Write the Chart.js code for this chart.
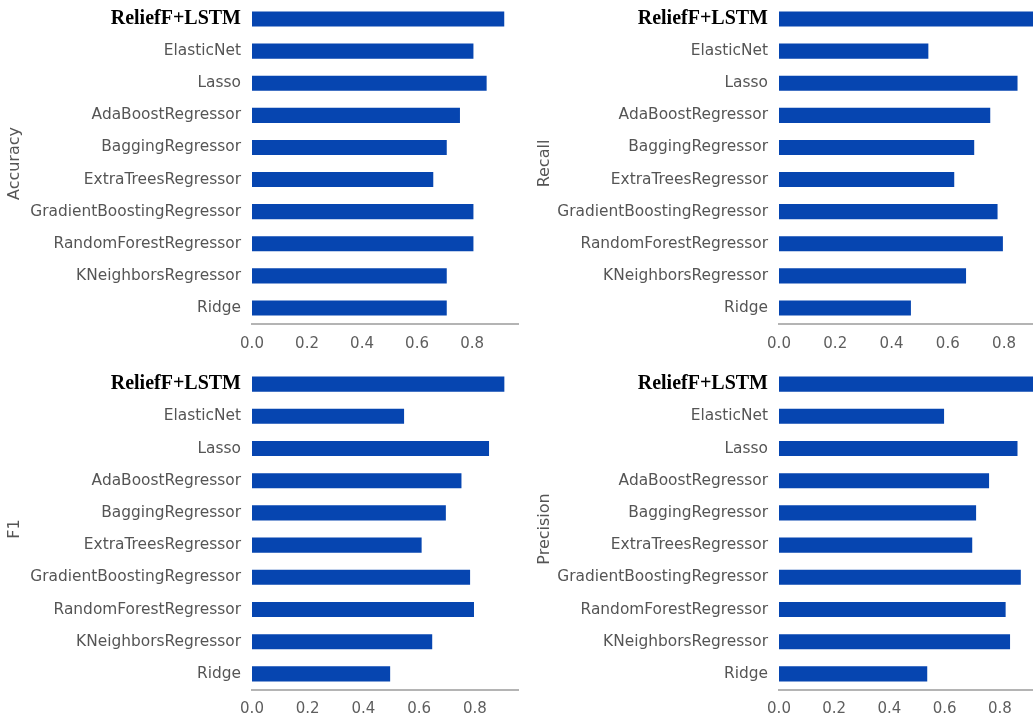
<!DOCTYPE html>
<html>
<head>
<meta charset="utf-8">
<script src="https://cdn.jsdelivr.net/npm/chart.js@4"></script>
<style>
  html, body { margin: 0; padding: 0; background: #fff; overflow: hidden; width: 1033px; height: 718px; }
  canvas { position: absolute; }
</style>
</head>
<body>
<canvas id="accuracy"></canvas>
<canvas id="recall"></canvas>
<canvas id="f1"></canvas>
<canvas id="precision"></canvas>
<script>
// Models compared, top to bottom
const models = [
  'ReliefF+LSTM', 'ElasticNet', 'Lasso', 'AdaBoostRegressor', 'BaggingRegressor',
  'ExtraTreesRegressor', 'GradientBoostingRegressor', 'RandomForestRegressor',
  'KNeighborsRegressor', 'Ridge'
];

// Scores per metric, same order as models
const accuracy  = [0.917, 0.805, 0.853, 0.756, 0.708, 0.659, 0.805, 0.805, 0.708, 0.708];
const recall    = [0.930, 0.531, 0.848, 0.751, 0.694, 0.623, 0.777, 0.796, 0.665, 0.469];
const f1        = [0.906, 0.546, 0.851, 0.752, 0.696, 0.609, 0.783, 0.797, 0.647, 0.496];
const precision = [0.930, 0.598, 0.864, 0.761, 0.714, 0.700, 0.876, 0.821, 0.837, 0.537];

// Value-axis tick positions
const xTicks = [0, 0.2, 0.4, 0.6, 0.8];

const barColor = '#0645b0';

function makePanel(p) {
  const el = document.getElementById(p.id);
  el.style.left = p.x + 'px';
  el.style.top = p.y + 'px';
  el.width = p.w;
  el.height = p.h;
  new Chart(el, {
    type: 'bar',
    data: {
      labels: models,
      datasets: [{
        data: p.values,
        backgroundColor: barColor,
        borderWidth: 0,
        barPercentage: 0.47,
        categoryPercentage: 1
      }]
    },
    options: {
      indexAxis: 'y',
      responsive: false,
      animation: false,
      devicePixelRatio: 1,
      layout: { padding: { left: p.padL, right: p.padR, top: p.padT, bottom: p.padB } },
      plugins: { legend: { display: false }, tooltip: { enabled: false } },
      scales: {
        x: {
          min: 0,
          max: p.xMax,
          grid: { display: false, drawTicks: false },
          border: { display: true, color: '#b4b4b4', width: 2 },
          ticks: {
            padding: p.tickPad,
            color: '#5e5e5e',
            font: { family: 'DejaVu Sans', size: 15 },
            callback: v => Number(v).toFixed(1)
          },
          afterBuildTicks: s => { s.ticks = xTicks.map(v => ({ value: v })); },
          afterFit: s => { s.height = 28; s.paddingLeft = 0; s.paddingRight = 0; }
        },
        y: {
          grid: { display: false, drawTicks: false },
          border: { display: false },
          ticks: {
            padding: 11,
            color: c => c.index === 0 ? '#000' : '#555',
            font: c => c.index === 0
              ? { family: 'Liberation Serif', size: 20, weight: 'bold' }
              : { family: 'DejaVu Sans', size: 15.4 }
          },
          title: {
            display: true,
            text: p.title,
            color: '#555',
            font: { family: 'DejaVu Sans', size: 16 },
            padding: 0
          },
          afterFit: s => { s.width = p.axisW; s.paddingTop = 0; s.paddingBottom = 0; }
        }
      }
    }
  });
}

makePanel({ id: 'accuracy',  title: 'Accuracy',  values: accuracy,
  x: 0,   y: 0,   w: 530, h: 360, padL: 5,  padR: 12, padT: 3, padB: 8, axisW: 247, xMax: 0.967, tickPad: 11 });
makePanel({ id: 'recall',    title: 'Recall',    values: recall,
  x: 520, y: 0,   w: 540, h: 360, padL: 15, padR: 9,  padT: 3, padB: 8, axisW: 244, xMax: 0.967, tickPad: 11 });
makePanel({ id: 'f1',        title: 'F1',        values: f1,
  x: 0,   y: 360, w: 530, h: 358, padL: 5,  padR: 12, padT: 8, padB: 0, axisW: 247, xMax: 0.955, tickPad: 10 });
makePanel({ id: 'precision', title: 'Precision', values: precision,
  x: 520, y: 360, w: 540, h: 358, padL: 15, padR: 16, padT: 8, padB: 0, axisW: 244, xMax: 0.96, tickPad: 10 });
</script>
</body>
</html>
